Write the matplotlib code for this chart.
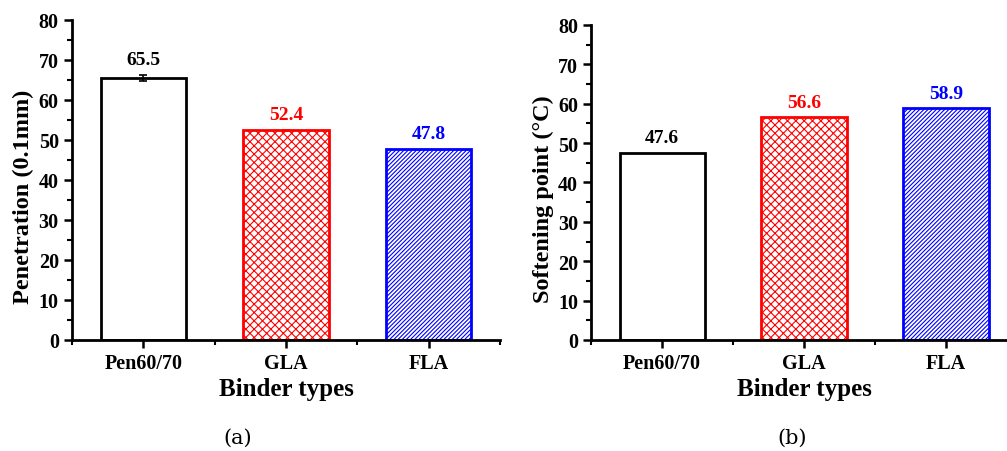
import matplotlib.pyplot as plt
from matplotlib.ticker import MultipleLocator

binders = ["Pen60/70", "GLA", "FLA"]
penetration = [65.5, 52.4, 47.8]
penetration_err = [0.8, 0.2, 0.0]
softening = [47.6, 56.6, 58.9]
colors = ["black", "red", "blue"]
hatches = ["", "xxxx", "////////"]

plt.rcParams['font.family'] = 'Liberation Serif'
plt.rcParams['font.weight'] = 'bold'
plt.rcParams['hatch.linewidth'] = 0.8

fig = plt.figure(figsize=(10.07, 4.52), dpi=100)
ax1 = fig.add_axes([0.0715, 0.2456, 0.425, 0.708])
ax2 = fig.add_axes([0.587, 0.2456, 0.423, 0.697])


def draw(ax, vals, ylabel, err=None):
    x = [1, 2, 3]
    for i in range(3):
        ax.bar(x[i], vals[i], width=0.6, facecolor="white", edgecolor=colors[i],
               hatch=hatches[i], linewidth=2, zorder=2)
        if err is not None and err[i] > 0:
            ax.errorbar(x[i], vals[i], yerr=err[i], color=colors[i], capsize=3,
                        elinewidth=1.2, capthick=1.2, zorder=3)
        top = vals[i] + (err[i] if err is not None else 0)
        ax.text(x[i], top + 1.6, f"{vals[i]:.1f}", ha="center", va="bottom",
                color=colors[i], fontsize=14, fontweight="bold")
    ax.set_xlim(0.5, 3.5)
    ax.set_ylim(0, 80)
    ax.set_xticks(x)
    ax.set_xticklabels(binders)
    ax.xaxis.set_minor_locator(MultipleLocator(0.5))
    ax.yaxis.set_major_locator(MultipleLocator(10))
    ax.yaxis.set_minor_locator(MultipleLocator(5))
    for s in ["top", "right"]:
        ax.spines[s].set_visible(False)
    for s in ["left", "bottom"]:
        ax.spines[s].set_linewidth(2)
    ax.tick_params(which="major", length=6, width=1.8, labelsize=14.5, direction="out")
    ax.tick_params(which="minor", length=3.5, width=1.5, direction="out")
    ax.set_xlabel("Binder types", fontsize=18, fontweight="bold", labelpad=3)
    ax.set_ylabel(ylabel, fontsize=17.5, fontweight="bold", labelpad=3)
    ax.yaxis.label.set_y(0.45)


draw(ax1, penetration, "Penetration (0.1mm)", penetration_err)
draw(ax2, softening, "Softening point (°C)")

fig.text(238 / 1007, 1 - 438 / 452, "(a)", ha="center", va="center",
         fontsize=15, fontweight="normal", family="DejaVu Serif")
fig.text(792 / 1007, 1 - 438 / 452, "(b)", ha="center", va="center",
         fontsize=15, fontweight="normal", family="DejaVu Serif")

fig.savefig("out.png", dpi=100)
